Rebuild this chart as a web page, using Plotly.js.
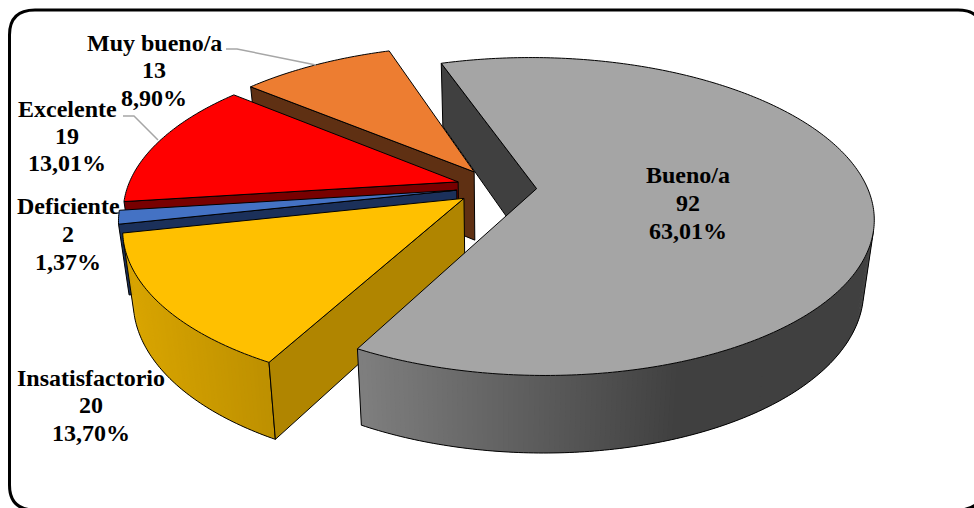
<!DOCTYPE html>
<html>
<head>
<meta charset="utf-8">
<script src="https://cdn.plot.ly/plotly-3.0.1.min.js"></script>
<style>html,body{margin:0;padding:0;background:#fff}</style>
</head>
<body>
<div id="chart" style="width:974px;height:508px"></div>
<script>
// Survey results, in clockwise order from the first slice.
const categories = ['Bueno/a', 'Insatisfactorio', 'Deficiente', 'Excelente', 'Muy bueno/a'];
const values = [92, 20, 2, 19, 13];

const topColors = ['#A5A5A5', '#FFC000', '#4472C4', '#FF0000', '#ED7D31'];
const faceColors = ['#404040', '#B08500', '#1B305A', '#780000', '#5F3013'];
// Outer wall shading: [left x, left rgb, right x, right rgb]
const wallShades = [
  [357, [127, 127, 127], 680, [64, 64, 64]],
  [125, [217, 165, 0], 275, [188, 143, 0]],
  [120, [27, 48, 90], 130, [27, 48, 90]],
  [120, [120, 0, 0], 130, [120, 0, 0]],
  [250, [95, 48, 19], 390, [95, 48, 19]]
];
const labelPlacement = [
  {x: 688, y: [175, 203, 231]},
  {x: 91, y: [378, 405, 433]},
  {x: 68, y: [206, 234, 262]},
  {x: 67, y: [109, 136, 163]},
  {x: 154, y: [43, 70, 98]}
];

// Perspective projection of the pie disc onto the page.
const view = {cx: 496.5, cy: 187, a: 330.5, b: 153.5, k: 0.175, pull: 0.1216, depth: 69, depthPower: 0.6, shrink: 0.972};
const firstAngle = 341.6;
const total = values.reduce((s, v) => s + v, 0);
const rad = d => d * Math.PI / 180;

function topPoint(X, Y) {
  const w = 1 / (1 + view.k * Y);
  return [view.cx + view.a * X * w, view.cy - view.b * Y * w, w];
}
function lowPoint(p) {
  return [view.cx + (p[0] - view.cx) * view.shrink, p[1] + view.depth * Math.pow(p[2], view.depthPower)];
}
function poly(points, fill, line, width) {
  const xs = points.map(p => p[0]);
  const ys = points.map(p => p[1]);
  return {
    type: 'scatter', mode: 'lines', x: xs, y: ys, hoverinfo: 'skip', showlegend: false,
    fill: fill ? 'toself' : 'none', fillcolor: fill || undefined,
    line: {color: line, width: width, simplify: false}
  };
}
function shade(spec, x) {
  const t = Math.max(0, Math.min(1, (x - spec[0]) / (spec[2] - spec[0])));
  const c = spec[1].map((v, i) => Math.round(v + (spec[3][i] - v) * t));
  return 'rgb(' + c.join(',') + ')';
}

// Geometry of each slice derived from its share of the total.
let start = firstAngle;
const slices = values.map((v, i) => {
  const sweep = v / total * 360;
  const mid = start + sweep / 2;
  const ox = view.pull * Math.sin(rad(mid));
  const oy = view.pull * Math.cos(rad(mid));
  const n = Math.max(4, Math.ceil(sweep / 0.75));
  const rim = [];
  for (let j = 0; j <= n; j++) {
    const t = rad(start + sweep * j / n);
    rim.push(topPoint(ox + Math.sin(t), oy + Math.cos(t)));
  }
  const apex = topPoint(ox, oy);
  start += sweep;
  return {i, apex, rim, low: rim.map(lowPoint), apexLow: lowPoint(apex)};
});

function wallTraces(s) {
  const out = [];
  const spec = wallShades[s.i];
  // A rim step faces the viewer when the wall runs below it on screen.
  const facing = s.rim.slice(0, -1).map((p, j) => {
    const q = s.rim[j + 1];
    const e = s.low[j];
    return (q[0] - p[0]) * (e[1] - p[1]) - (q[1] - p[1]) * (e[0] - p[0]) < 0;
  });
  // Strips overlap the next step so their seams blend into the wall colour.
  for (let j = 0; j < s.rim.length - 1; j++) {
    if (!facing[j]) continue;
    const col = shade(spec, (s.rim[j][0] + s.rim[j + 1][0]) / 2);
    const e = Math.min(j + 2, s.rim.length - 1);
    out.push(poly([s.rim[j], s.rim[e], s.low[e], s.low[j], s.rim[j]], col, col, 0));
  }
  let run = [];
  for (let j = 0; j < facing.length; j++) {
    if (facing[j]) {
      if (!run.length) {
        run.push(s.rim[j], s.low[j]);
      }
      run.push(s.low[j + 1]);
      if (j === facing.length - 1 || !facing[j + 1]) {
        run.push(s.rim[j + 1]);
        out.push(poly(run, null, '#000', 1));
        run = [];
      }
    }
  }
  return out;
}

// Cut face on the clockwise-leading edge of a slice.
function faceTrace(s) {
  return poly([s.apex, s.rim[0], s.low[0], s.apexLow, s.apex], faceColors[s.i], '#000', 1);
}
function topTrace(s) {
  return poly([s.apex].concat(s.rim, [s.apex]), topColors[s.i], '#000', 1);
}

// Painter's order: back slice's cut face, then the small slices, then the big slice on top.
const traces = [];
traces.push(faceTrace(slices[0]));
[4, 3, 2, 1].forEach(i => {
  const s = slices[i];
  traces.push(...wallTraces(s), faceTrace(s), topTrace(s));
});
traces.push(...wallTraces(slices[0]), topTrace(slices[0]));

// Three-line labels: name, count, share.
const annotations = [];
categories.forEach((name, i) => {
  const share = (values[i] / total * 100).toFixed(2).replace('.', ',') + '%';
  [name, String(values[i]), share].forEach((txt, l) => {
    annotations.push({
      x: labelPlacement[i].x, y: labelPlacement[i].y[l], xref: 'x', yref: 'y',
      text: '<b>' + txt + '</b>', showarrow: false, xanchor: 'center', yanchor: 'middle',
      font: {family: '"Liberation Serif", serif', size: 24, color: '#000'}
    });
  });
});

const leader = {type: 'path', xref: 'x', yref: 'y', line: {color: '#A6A6A6', width: 1.5}};
const layout = {
  width: 974, height: 508,
  margin: {l: 0, r: 0, t: 0, b: 0},
  paper_bgcolor: '#fff', plot_bgcolor: '#fff',
  showlegend: false,
  xaxis: {range: [0, 974], visible: false, fixedrange: true},
  yaxis: {range: [508, 0], visible: false, fixedrange: true},
  annotations,
  shapes: [
    {type: 'path', xref: 'x', yref: 'y', line: {color: '#000', width: 3},
     path: 'M 35 10 L 958 10 Q 983 10 983 35 L 983 485 Q 983 510 958 510 L 35 510 Q 9.5 510 9.5 485 L 9.5 35 Q 9.5 10 35 10 Z'},
    Object.assign({path: 'M 226 49 L 237 49 L 316 65'}, leader),
    Object.assign({path: 'M 123 116 L 134 116 L 158 140'}, leader)
  ]
};
Plotly.newPlot('chart', traces, layout, {displayModeBar: false, staticPlot: true});
</script>
</body>
</html>
